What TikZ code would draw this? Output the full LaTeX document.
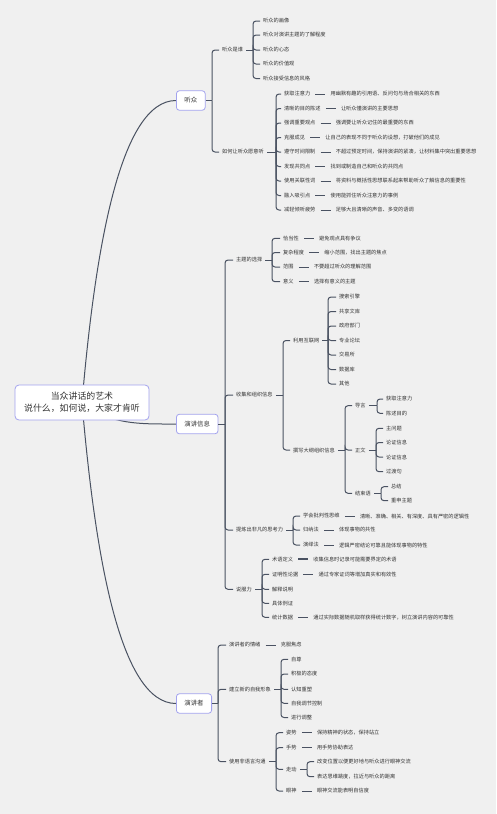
\documentclass[tikz,border=0pt]{standalone}
\usepackage{fontspec}
\setmainfont{Noto Sans CJK SC}
\usetikzlibrary{positioning,backgrounds}

\definecolor{bg}{HTML}{F0F0F0}
\definecolor{linkc}{HTML}{4A5262}
\definecolor{boxc}{HTML}{A3A3EE}
\definecolor{txtc}{HTML}{333333}

% bar at x=#2, from parent #1 to every child in #3
\newcommand\branch[3]{%
  \draw[link] (#1.east) -- (#2,0 |- #1.east) coordinate (#1-b);
  \foreach \kid in {#3} {\draw[link,rounded corners=3pt] (#1-b) |- (\kid.west);}}

\begin{document}
\begin{tikzpicture}[x=1pt,y=-1pt,
  link/.style={draw=linkc,line width=1pt},
  tie/.style={link,shorten <=2pt,shorten >=2pt},
  rootbox/.style={draw=boxc,fill=white,rounded corners=4pt,line width=0.8pt,text=txtc,
    font=\fontsize{8.9}{12}\selectfont,align=center,minimum width=134pt,minimum height=35pt},
  topic/.style={draw=boxc,fill=white,rounded corners=3pt,line width=0.8pt,text=txtc,
    font=\fontsize{6.4}{7.5}\selectfont,inner xsep=8pt,minimum height=19.5pt,anchor=west},
  txt/.style={font=\fontsize{5.2}{6}\selectfont,text=txtc,inner xsep=3pt,inner ysep=1pt},
  leaf/.style={txt,anchor=west,xshift=-3pt}]
\useasboundingbox (0,0) rectangle (497,814);
\begin{scope}[on background layer]
\fill[white] (0,0) rectangle (497,814);
\fill[bg] (0,0) rectangle (495.5,814);
\end{scope}

\node[rootbox] (root) at (82,402.5) {当众讲话的艺术\\说什么，如何说，大家才肯听};

\node[topic] (aud) at (176,100.5) {听众};
\node[topic] (info) at (176,424) {演讲信息};
\node[topic] (spk) at (176,703.5) {演讲者};

\begin{scope}[on background layer]
\draw[link] (root.center) .. controls (95,250) and (120,100.5) .. (aud.west);
\draw[link] (root.center) .. controls (110,425) and (140,424) .. (info.west);
\draw[link] (root.center) .. controls (95,555) and (120,703.5) .. (spk.west);
\end{scope}

% 听众
\node[leaf] (who) at (222,50) {听众是谁};
\node[leaf] (want) at (222,152) {如何让听众愿意听};

\node[leaf] (who1) at (263,21) {听众的画像};
\node[leaf] (who2) at (263,35) {听众对演讲主题的了解程度};
\node[leaf] (who3) at (263,50) {听众的心态};
\node[leaf] (who4) at (263,64) {听众的价值观};
\node[leaf] (who5) at (263,78.5) {听众接受信息的风格};

\node[leaf] (want1) at (284,94) {获取注意力};
\node[leaf] (want2) at (284,108.5) {清晰的目的陈述};
\node[leaf] (want3) at (284,123) {强调重要观点};
\node[leaf] (want4) at (284,137.5) {克服成见};
\node[leaf] (want5) at (284,152) {遵守时间限制};
\node[leaf] (want6) at (284,166.5) {发现共同点};
\node[leaf] (want7) at (284,181) {使用关联性词};
\node[leaf] (want8) at (284,195.5) {融入吸引点};
\node[leaf] (want9) at (284,210) {减轻倾听疲劳};

\node[txt,right=14pt of want1] (want1n) {用幽默有趣的引用语、反问句与场合相关的东西};
\node[txt,right=14pt of want2] (want2n) {让听众懂演讲的主要思想};
\node[txt,right=14pt of want3] (want3n) {强调要让听众记住的最重要的东西};
\node[txt,right=14pt of want4] (want4n) {让自己的表现不同于听众的设想，打破他们的成见};
\node[txt,right=14pt of want5] (want5n) {不超过预定时间，保持演讲的紧凑，让材料集中突出重要思想};
\node[txt,right=14pt of want6] (want6n) {找到或制造自己和听众的共同点};
\node[txt,right=14pt of want7] (want7n) {将资料与概括性思想联系起来帮助听众了解信息的重要性};
\node[txt,right=14pt of want8] (want8n) {使用能抓住听众注意力的事例};
\node[txt,right=14pt of want9] (want9n) {足够大且清晰的声音、多变的语调};

% 演讲信息
\node[leaf] (theme) at (236,260) {主题的选择};
\node[leaf] (collect) at (236,395) {收集和组织信息};
\node[leaf] (think) at (236,530) {提炼出非凡的思考力};
\node[leaf] (pers) at (236,589.3) {说服力};

\node[leaf] (theme1) at (283,238.3) {恰当性};
\node[leaf] (theme2) at (283,252.5) {复杂程度};
\node[leaf] (theme3) at (283,267) {范围};
\node[leaf] (theme4) at (283,281.7) {意义};
\node[txt,right=14pt of theme1] (theme1n) {避免观点具有争议};
\node[txt,right=14pt of theme2] (theme2n) {缩小范围，找出主题的焦点};
\node[txt,right=14pt of theme3] (theme3n) {不要超过听众的理解范围};
\node[txt,right=14pt of theme4] (theme4n) {选择有意义的主题};

\node[leaf] (net) at (293,340.5) {利用互联网};
\node[leaf] (outline) at (293,450) {撰写大纲组织信息};

\node[leaf] (net1) at (339,297) {搜索引擎};
\node[leaf] (net2) at (339,311.5) {共享文库};
\node[leaf] (net3) at (339,326) {政府部门};
\node[leaf] (net4) at (339,340.5) {专业论坛};
\node[leaf] (net5) at (339,355) {交易所};
\node[leaf] (net6) at (339,369.5) {数据库};
\node[leaf] (net7) at (339,384) {其他};

\node[leaf] (intro) at (355,405.7) {导言};
\node[leaf] (body) at (355,450) {正文};
\node[leaf] (concl) at (355,493.3) {结束语};

\node[leaf] (intro1) at (386,399) {获取注意力};
\node[leaf] (intro2) at (386,413.3) {陈述目的};
\node[leaf] (body1) at (386,428.3) {主问题};
\node[leaf] (body2) at (386,442.5) {论证信息};
\node[leaf] (body3) at (386,457) {论证信息};
\node[leaf] (body4) at (386,471.7) {过渡句};
\node[leaf] (concl1) at (391,486.7) {总结};
\node[leaf] (concl2) at (391,500.7) {重申主题};

\node[leaf] (think1) at (303,516) {学会批判性思维};
\node[leaf] (think2) at (303,530) {归纳法};
\node[leaf] (think3) at (303,545) {演绎法};
\node[txt,right=14pt of think1] (think1n) {清晰、准确、相关、有深度、具有严密的逻辑性};
\node[txt,right=14pt of think2] (think2n) {体现事物的共性};
\node[txt,right=14pt of think3] (think3n) {逻辑严密结论可靠且能体现事物的特性};

\node[leaf] (pers1) at (272,559.3) {术语定义};
\node[leaf] (pers2) at (272,574.3) {证明性论据};
\node[leaf] (pers3) at (272,589.3) {解释说明};
\node[leaf] (pers4) at (272,603.3) {具体例证};
\node[leaf] (pers5) at (272,617.3) {统计数据};
\node[txt,right=14pt of pers1] (pers1n) {收集信息时记录可能需要界定的术语};
\node[txt,right=14pt of pers2] (pers2n) {通过专家证词等增加真实和有效性};
\node[txt,right=14pt of pers5] (pers5n) {通过实际数据随机取样获得统计数字，树立演讲内容的可靠性};

% 演讲者
\node[leaf] (mood) at (229,645) {演讲者的情绪};
\node[leaf] (image) at (229,689.3) {建立新的自我形象};
\node[leaf] (nonv) at (229,761.7) {使用非语言沟通};
\node[txt,right=14pt of mood] (moodn) {克服焦虑};

\node[leaf] (img1) at (291,659.3) {自尊};
\node[leaf] (img2) at (291,674) {积极的态度};
\node[leaf] (img3) at (291,689.3) {认知重塑};
\node[leaf] (img4) at (291,703.3) {自我调节控制};
\node[leaf] (img5) at (291,717.5) {进行调整};

\node[leaf] (nv1) at (286,732.7) {姿势};
\node[leaf] (nv2) at (286,747.7) {手势};
\node[leaf] (walk) at (286,769.3) {走动};
\node[leaf] (nv4) at (286,791) {眼神};
\node[txt,right=14pt of nv1] (nv1n) {保持精神的状态，保持站立};
\node[txt,right=14pt of nv2] (nv2n) {用手势协助表达};
\node[txt,right=14pt of nv4] (nv4n) {眼神交流能表明自信度};
\node[leaf] (walk1) at (317,761.7) {改变位置以便更好地与听众进行眼神交流};
\node[leaf] (walk2) at (317,776.7) {表达思维跳度，拉近与听众的距离};

% connectors
\branch{aud}{212}{who,want}
\branch{who}{253}{who1,who2,who3,who4,who5}
\branch{want}{276}{want1,want2,want3,want4,want5,want6,want7,want8,want9}
\foreach \i in {1,...,9} {\draw[tie] (want\i) -- (want\i n);}

\branch{info}{225}{theme,collect,think,pers}
\branch{theme}{272}{theme1,theme2,theme3,theme4}
\foreach \i in {1,...,4} {\draw[tie] (theme\i) -- (theme\i n);}
\branch{collect}{283}{net,outline}
\branch{net}{328}{net1,net2,net3,net4,net5,net6,net7}
\branch{outline}{345}{intro,body,concl}
\branch{intro}{377}{intro1,intro2}
\branch{body}{376}{body1,body2,body3,body4}
\branch{concl}{381}{concl1,concl2}
\branch{think}{293}{think1,think2,think3}
\foreach \i in {1,2,3} {\draw[tie] (think\i) -- (think\i n);}
\branch{pers}{262}{pers1,pers2,pers3,pers4,pers5}
\draw[tie,line width=1.8pt] (pers1) -- (pers1n);
\draw[tie] (pers2) -- (pers2n);
\draw[tie] (pers5) -- (pers5n);

\branch{spk}{218}{mood,image,nonv}
\draw[tie] (mood) -- (moodn);
\branch{image}{281}{img1,img2,img3,img4,img5}
\branch{nonv}{276}{nv1,nv2,walk,nv4}
\branch{walk}{307}{walk1,walk2}
\draw[tie] (nv1) -- (nv1n);
\draw[tie] (nv2) -- (nv2n);
\draw[tie] (nv4) -- (nv4n);
\end{tikzpicture}
\end{document}
